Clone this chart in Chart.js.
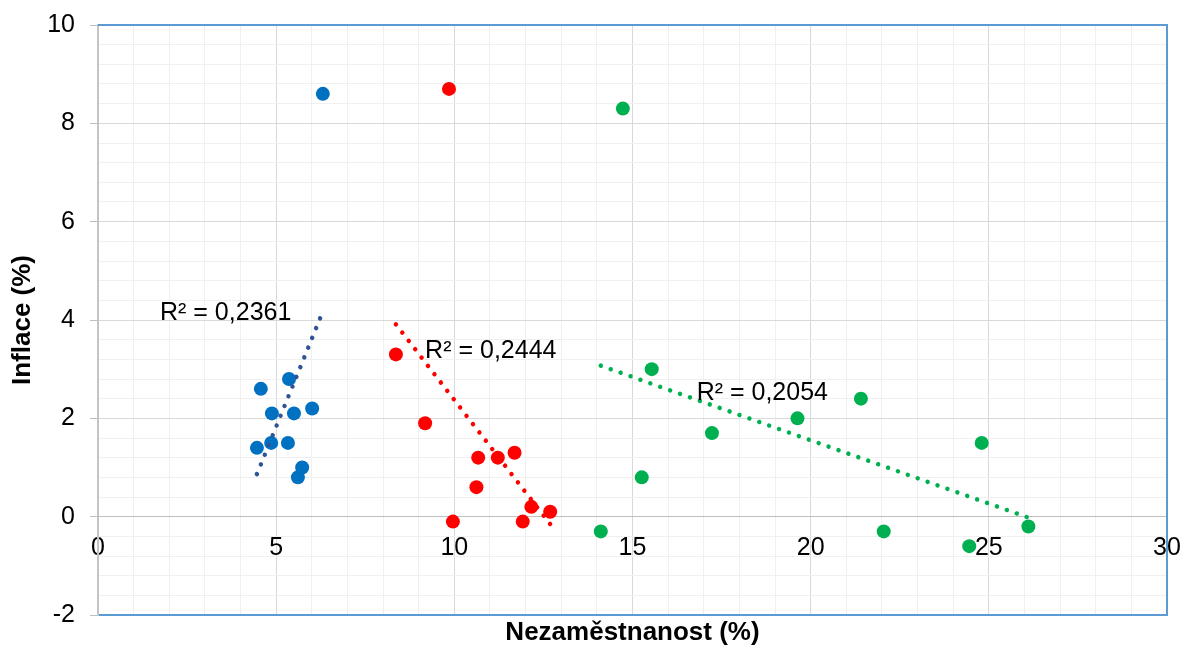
<!DOCTYPE html>
<html>
<head>
<meta charset="utf-8">
<script src="https://cdn.jsdelivr.net/npm/chart.js@4.4.1/dist/chart.umd.min.js"></script>
<style>
html,body{margin:0;padding:0;background:#ffffff;}
#wrap{width:1184px;height:648px;}
</style>
</head>
<body>
<div id="wrap"><canvas id="c" width="1184" height="648"></canvas></div>
<script>
// ---- data ----
const blueX  = [6.31, 4.57, 5.36, 4.88, 5.50, 6.01, 4.46, 4.86, 5.33, 5.73, 5.61];
const blueY  = [8.6, 2.6, 2.8, 2.1, 2.1, 2.2, 1.4, 1.5, 1.5, 1.0, 0.8];
const redX   = [9.85, 8.36, 9.18, 10.67, 11.22, 11.69, 10.62, 12.16, 12.69, 9.96, 11.92];
const redY   = [8.7, 3.3, 1.9, 1.2, 1.2, 1.3, 0.6, 0.2, 0.1, -0.1, -0.1];
const greenX = [14.73, 15.54, 21.41, 19.63, 17.23, 24.80, 15.26, 14.11, 22.05, 24.45, 26.11];
const greenY = [8.3, 3.0, 2.4, 2.0, 1.7, 1.5, 0.8, -0.3, -0.3, -0.6, -0.2];
const r2Texts = ['R² = 0,2361', 'R² = 0,2444', 'R² = 0,2054'];
const xTickLabels = ['0', '5', '10', '15', '20', '25', '30'];
const yTickLabels = ['-2', '0', '2', '4', '6', '8', '10'];
const xTitle = 'Nezaměstnanost (%)';
const yTitle = 'Inflace (%)';

// ---- helpers ----
function pts(xs, ys) { return xs.map((x, i) => ({x: x, y: ys[i]})); }
function trend(xs, ys) {
  const n = xs.length;
  const mx = xs.reduce((a, b) => a + b, 0) / n;
  const my = ys.reduce((a, b) => a + b, 0) / n;
  let sxy = 0, sxx = 0;
  for (let i = 0; i < n; i++) { sxy += (xs[i] - mx) * (ys[i] - my); sxx += (xs[i] - mx) * (xs[i] - mx); }
  const b = sxy / sxx, a = my - b * mx;
  const x0 = Math.min(...xs), x1 = Math.max(...xs);
  return [{x: x0, y: a + b * x0}, {x: x1, y: a + b * x1}];
}
const near = (v, m) => Math.abs(v / m - Math.round(v / m)) < 1e-6;

const BLUE = '#0070C0', RED = '#FF0000', GREEN = '#00B050';
const BLUE_T = '#2F5496';
const FONT = "'Liberation Sans', Arial, Helvetica, sans-serif";

function trendDs(data, color) {
  return {type: 'scatter', data: data, showLine: true, borderColor: color, borderWidth: 4.5,
    borderDash: [0.01, 10.5], borderCapStyle: 'round', pointRadius: 0, pointHoverRadius: 0,
    fill: false, order: 0};
}
function pointDs(data, color) {
  return {type: 'scatter', data: data, backgroundColor: color, borderColor: color, borderWidth: 0,
    pointRadius: 7, pointHoverRadius: 7, order: 1};
}

const labelAnchors = [
  {x: 1.74, y: 4.14},
  {x: 9.18, y: 3.36},
  {x: 16.80, y: 2.52}
];

const framePlugin = {
  id: 'frame',
  beforeDatasetsDraw(chart) {
    const {ctx, chartArea: a} = chart;
    ctx.save();
    ctx.strokeStyle = '#5B9BD5';
    ctx.lineWidth = 2;
    ctx.beginPath();
    ctx.moveTo(a.left, a.top);
    ctx.lineTo(a.right, a.top);
    ctx.lineTo(a.right, a.bottom);
    ctx.stroke();
    ctx.restore();
  }
};
const r2Plugin = {
  id: 'r2labels',
  afterDatasetsDraw(chart) {
    const {ctx} = chart;
    const sx = chart.scales.x, sy = chart.scales.y;
    ctx.save();
    ctx.font = '25px ' + FONT;
    ctx.fillStyle = '#000000';
    ctx.textAlign = 'left';
    ctx.textBaseline = 'middle';
    r2Texts.forEach((t, i) => {
      ctx.fillText(t, sx.getPixelForValue(labelAnchors[i].x), sy.getPixelForValue(labelAnchors[i].y));
    });
    ctx.restore();
  }
};

new Chart(document.getElementById('c'), {
  type: 'scatter',
  data: {
    datasets: [
      trendDs(trend(blueX, blueY), BLUE_T),
      trendDs(trend(redX, redY), RED),
      trendDs(trend(greenX, greenY), GREEN),
      pointDs(pts(blueX, blueY), BLUE),
      pointDs(pts(redX, redY), RED),
      pointDs(pts(greenX, greenY), GREEN)
    ]
  },
  options: {
    responsive: false,
    animation: false,
    devicePixelRatio: 1,
    layout: {padding: {top: 25, right: 17, left: 0, bottom: 0}},
    plugins: {legend: {display: false}, tooltip: {enabled: false}},
    scales: {
      x: {
        type: 'linear', position: 'bottom', min: 0, max: 30,
        ticks: {display: false, stepSize: 1, autoSkip: false},
        grid: {
          drawTicks: false,
          lineWidth: 1,
          color: (c) => near(c.tick.value, 5) ? '#d9d9d9' : '#f0f0f0'
        },
        border: {display: true, color: '#5B9BD5', width: 2},
        title: {display: true, text: xTitle, color: '#000000',
          font: {family: FONT, size: 26, weight: 'bold'}, padding: {top: 0, bottom: 0}},
        afterFit: (s) => { s.height = 33; s.paddingLeft = 0; s.paddingRight = 0; }
      },
      x2: {
        type: 'linear', axis: 'x', position: {y: 0}, min: 0, max: 30,
        ticks: {
          stepSize: 5, autoSkip: false, maxRotation: 0, padding: 16, color: '#000000',
          font: {family: FONT, size: 25},
          callback: (v) => { const i = Math.round(v / 5); return near(v, 5) ? xTickLabels[i] : ''; }
        },
        grid: {display: false, drawTicks: false},
        border: {display: false},
        afterFit: (s) => { s.height = 0; s.paddingLeft = 0; s.paddingRight = 0; s.paddingTop = 0; s.paddingBottom = 0; }
      },
      y: {
        type: 'linear', position: 'left', min: -2, max: 10,
        ticks: {
          stepSize: 0.4, autoSkip: false, padding: 15, color: '#000000',
          font: {family: FONT, size: 25},
          callback: (v) => { if (!near(v, 2)) return ''; const i = Math.round((v + 2) / 2); return yTickLabels[i]; }
        },
        grid: {
          drawTicks: true, tickLength: 8, lineWidth: 1,
          color: (c) => Math.abs(c.tick.value) < 1e-6 ? '#bfbfbf' : (near(c.tick.value, 2) ? '#d9d9d9' : '#f0f0f0'),
          tickColor: (c) => near(c.tick.value, 2) ? '#bfbfbf' : 'rgba(0,0,0,0)'
        },
        border: {display: true, color: '#c4c4c4', width: 2},
        title: {display: true, text: yTitle, color: '#000000',
          font: {family: FONT, size: 26, weight: 'bold'}, padding: {top: 7, bottom: 0}},
        afterFit: (s) => { s.width = 98; s.paddingTop = 0; s.paddingBottom = 0; }
      }
    }
  },
  plugins: [framePlugin, r2Plugin]
});
</script>
</body>
</html>
